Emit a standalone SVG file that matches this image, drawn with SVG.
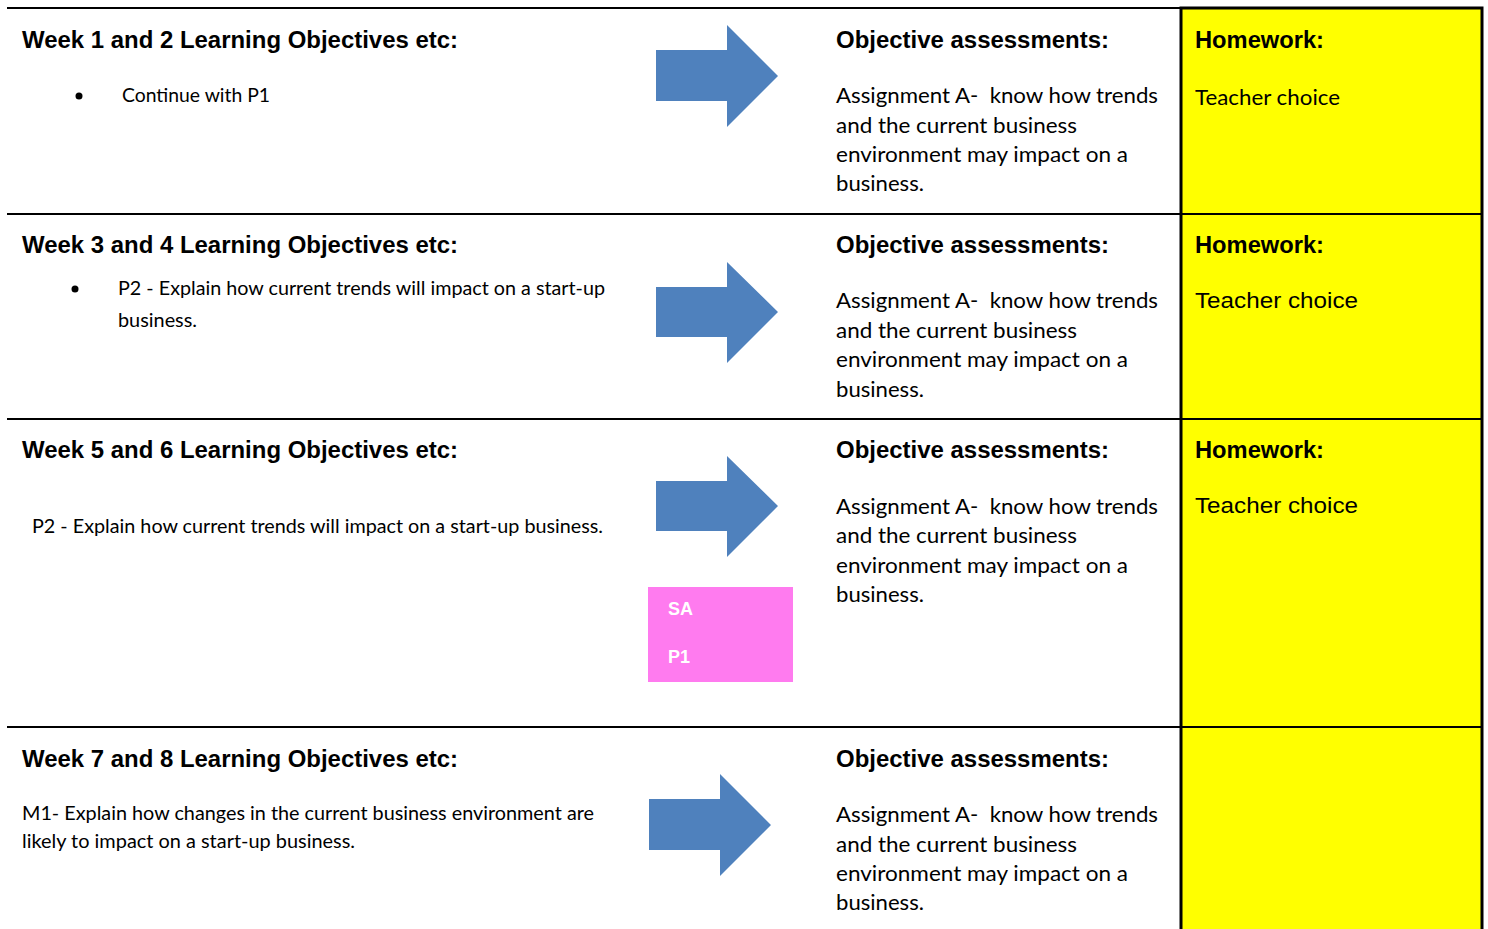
<svg xmlns="http://www.w3.org/2000/svg" width="1488" height="929" viewBox="0 0 1488 929">
<style>
.h{font-family:"Liberation Sans",Arial,sans-serif;font-weight:bold;font-size:23.5px;fill:#000}
.c{font-family:Lato,"Noto Sans",sans-serif;fill:#000}
.c18{font-size:18.5px}
.c21{font-size:21.5px}
.a{font-family:"Liberation Sans",Arial,sans-serif;font-size:22.5px;fill:#000}
.w{font-family:"Liberation Sans",Arial,sans-serif;font-weight:bold;font-size:18px;fill:#fff}
.arrow{fill:#4F81BD}
.rule{stroke:#000;stroke-width:2}
</style>
<rect width="1488" height="929" fill="#fff"/>
<g id="grid">
<rect x="1181" y="8" width="301" height="930" fill="#FFFF00" stroke="#000" stroke-width="3"/>
<line class="rule" x1="7" y1="8" x2="1482" y2="8"/>
<line class="rule" x1="7" y1="214" x2="1482" y2="214"/>
<line class="rule" x1="7" y1="419" x2="1482" y2="419"/>
<line class="rule" x1="7" y1="727" x2="1482" y2="727"/>
</g>
<g id="connectors">
<polygon class="arrow" points="656,50 727,50 727,25 778,76 727,127 727,101 656,101"/>
<polygon class="arrow" points="656,287 727,287 727,262 778,312 727,363 727,337 656,337"/>
<polygon class="arrow" points="656,481 727,481 727,456 778,506 727,557 727,531 656,531"/>
<polygon class="arrow" points="649,799 720,799 720,774 771,825 720,876 720,850 649,850"/>
</g>
<g id="week12">
<text class="h" x="22" y="48" textLength="436" lengthAdjust="spacingAndGlyphs">Week 1 and 2 Learning Objectives etc:</text>
<circle cx="79" cy="96" r="3.5" fill="#000"/>
<text class="c c18" x="122" y="102" textLength="148" lengthAdjust="spacingAndGlyphs">Continue with P1</text>
</g>
<g id="obj12">
<text class="h" x="836" y="48" textLength="273" lengthAdjust="spacingAndGlyphs">Objective assessments:</text>
<text class="c c21" x="836" y="103" textLength="322" lengthAdjust="spacingAndGlyphs" xml:space="preserve">Assignment A-  know how trends</text>
<text class="c c21" x="836" y="133" textLength="241" lengthAdjust="spacingAndGlyphs">and the current business</text>
<text class="c c21" x="836" y="162" textLength="292" lengthAdjust="spacingAndGlyphs">environment may impact on a</text>
<text class="c c21" x="836" y="191" textLength="88" lengthAdjust="spacingAndGlyphs">business.</text>
</g>
<g id="hw12">
<text class="h" x="1195" y="48" textLength="129" lengthAdjust="spacingAndGlyphs">Homework:</text>
<text class="c c21" x="1195" y="105" textLength="145" lengthAdjust="spacingAndGlyphs">Teacher choice</text>
</g>
<g id="week34">
<text class="h" x="22" y="253" textLength="436" lengthAdjust="spacingAndGlyphs">Week 3 and 4 Learning Objectives etc:</text>
<circle cx="75" cy="289" r="3.5" fill="#000"/>
<text class="c c18" x="118" y="295" textLength="487" lengthAdjust="spacingAndGlyphs">P2 - Explain how current trends will impact on a start-up</text>
<text class="c c18" x="118" y="327" textLength="79" lengthAdjust="spacingAndGlyphs">business.</text>
</g>
<g id="obj34">
<text class="h" x="836" y="253" textLength="273" lengthAdjust="spacingAndGlyphs">Objective assessments:</text>
<text class="c c21" x="836" y="308" textLength="322" lengthAdjust="spacingAndGlyphs" xml:space="preserve">Assignment A-  know how trends</text>
<text class="c c21" x="836" y="338" textLength="241" lengthAdjust="spacingAndGlyphs">and the current business</text>
<text class="c c21" x="836" y="367" textLength="292" lengthAdjust="spacingAndGlyphs">environment may impact on a</text>
<text class="c c21" x="836" y="397" textLength="88" lengthAdjust="spacingAndGlyphs">business.</text>
</g>
<g id="hw34">
<text class="h" x="1195" y="253" textLength="129" lengthAdjust="spacingAndGlyphs">Homework:</text>
<text class="a" x="1195" y="308" textLength="163" lengthAdjust="spacingAndGlyphs">Teacher choice</text>
</g>
<g id="week56">
<text class="h" x="22" y="458" textLength="436" lengthAdjust="spacingAndGlyphs">Week 5 and 6 Learning Objectives etc:</text>
<text class="c c18" x="32" y="533" textLength="571" lengthAdjust="spacingAndGlyphs">P2 - Explain how current trends will impact on a start-up business.</text>
</g>
<g id="sa">
<rect x="648" y="587" width="145" height="95" fill="#FF7BEF"/>
<text class="w" x="668" y="615">SA</text>
<text class="w" x="668" y="663">P1</text>
</g>
<g id="obj56">
<text class="h" x="836" y="458" textLength="273" lengthAdjust="spacingAndGlyphs">Objective assessments:</text>
<text class="c c21" x="836" y="514" textLength="322" lengthAdjust="spacingAndGlyphs" xml:space="preserve">Assignment A-  know how trends</text>
<text class="c c21" x="836" y="543" textLength="241" lengthAdjust="spacingAndGlyphs">and the current business</text>
<text class="c c21" x="836" y="573" textLength="292" lengthAdjust="spacingAndGlyphs">environment may impact on a</text>
<text class="c c21" x="836" y="602" textLength="88" lengthAdjust="spacingAndGlyphs">business.</text>
</g>
<g id="hw56">
<text class="h" x="1195" y="458" textLength="129" lengthAdjust="spacingAndGlyphs">Homework:</text>
<text class="a" x="1195" y="513" textLength="163" lengthAdjust="spacingAndGlyphs">Teacher choice</text>
</g>
<g id="week78">
<text class="h" x="22" y="767" textLength="436" lengthAdjust="spacingAndGlyphs">Week 7 and 8 Learning Objectives etc:</text>
<text class="c c18" x="22" y="820" textLength="572" lengthAdjust="spacingAndGlyphs">M1- Explain how changes in the current business environment are</text>
<text class="c c18" x="22" y="848" textLength="333" lengthAdjust="spacingAndGlyphs">likely to impact on a start-up business.</text>
</g>
<g id="obj78">
<text class="h" x="836" y="767" textLength="273" lengthAdjust="spacingAndGlyphs">Objective assessments:</text>
<text class="c c21" x="836" y="822" textLength="322" lengthAdjust="spacingAndGlyphs" xml:space="preserve">Assignment A-  know how trends</text>
<text class="c c21" x="836" y="852" textLength="241" lengthAdjust="spacingAndGlyphs">and the current business</text>
<text class="c c21" x="836" y="881" textLength="292" lengthAdjust="spacingAndGlyphs">environment may impact on a</text>
<text class="c c21" x="836" y="910" textLength="88" lengthAdjust="spacingAndGlyphs">business.</text>
</g>
</svg>
